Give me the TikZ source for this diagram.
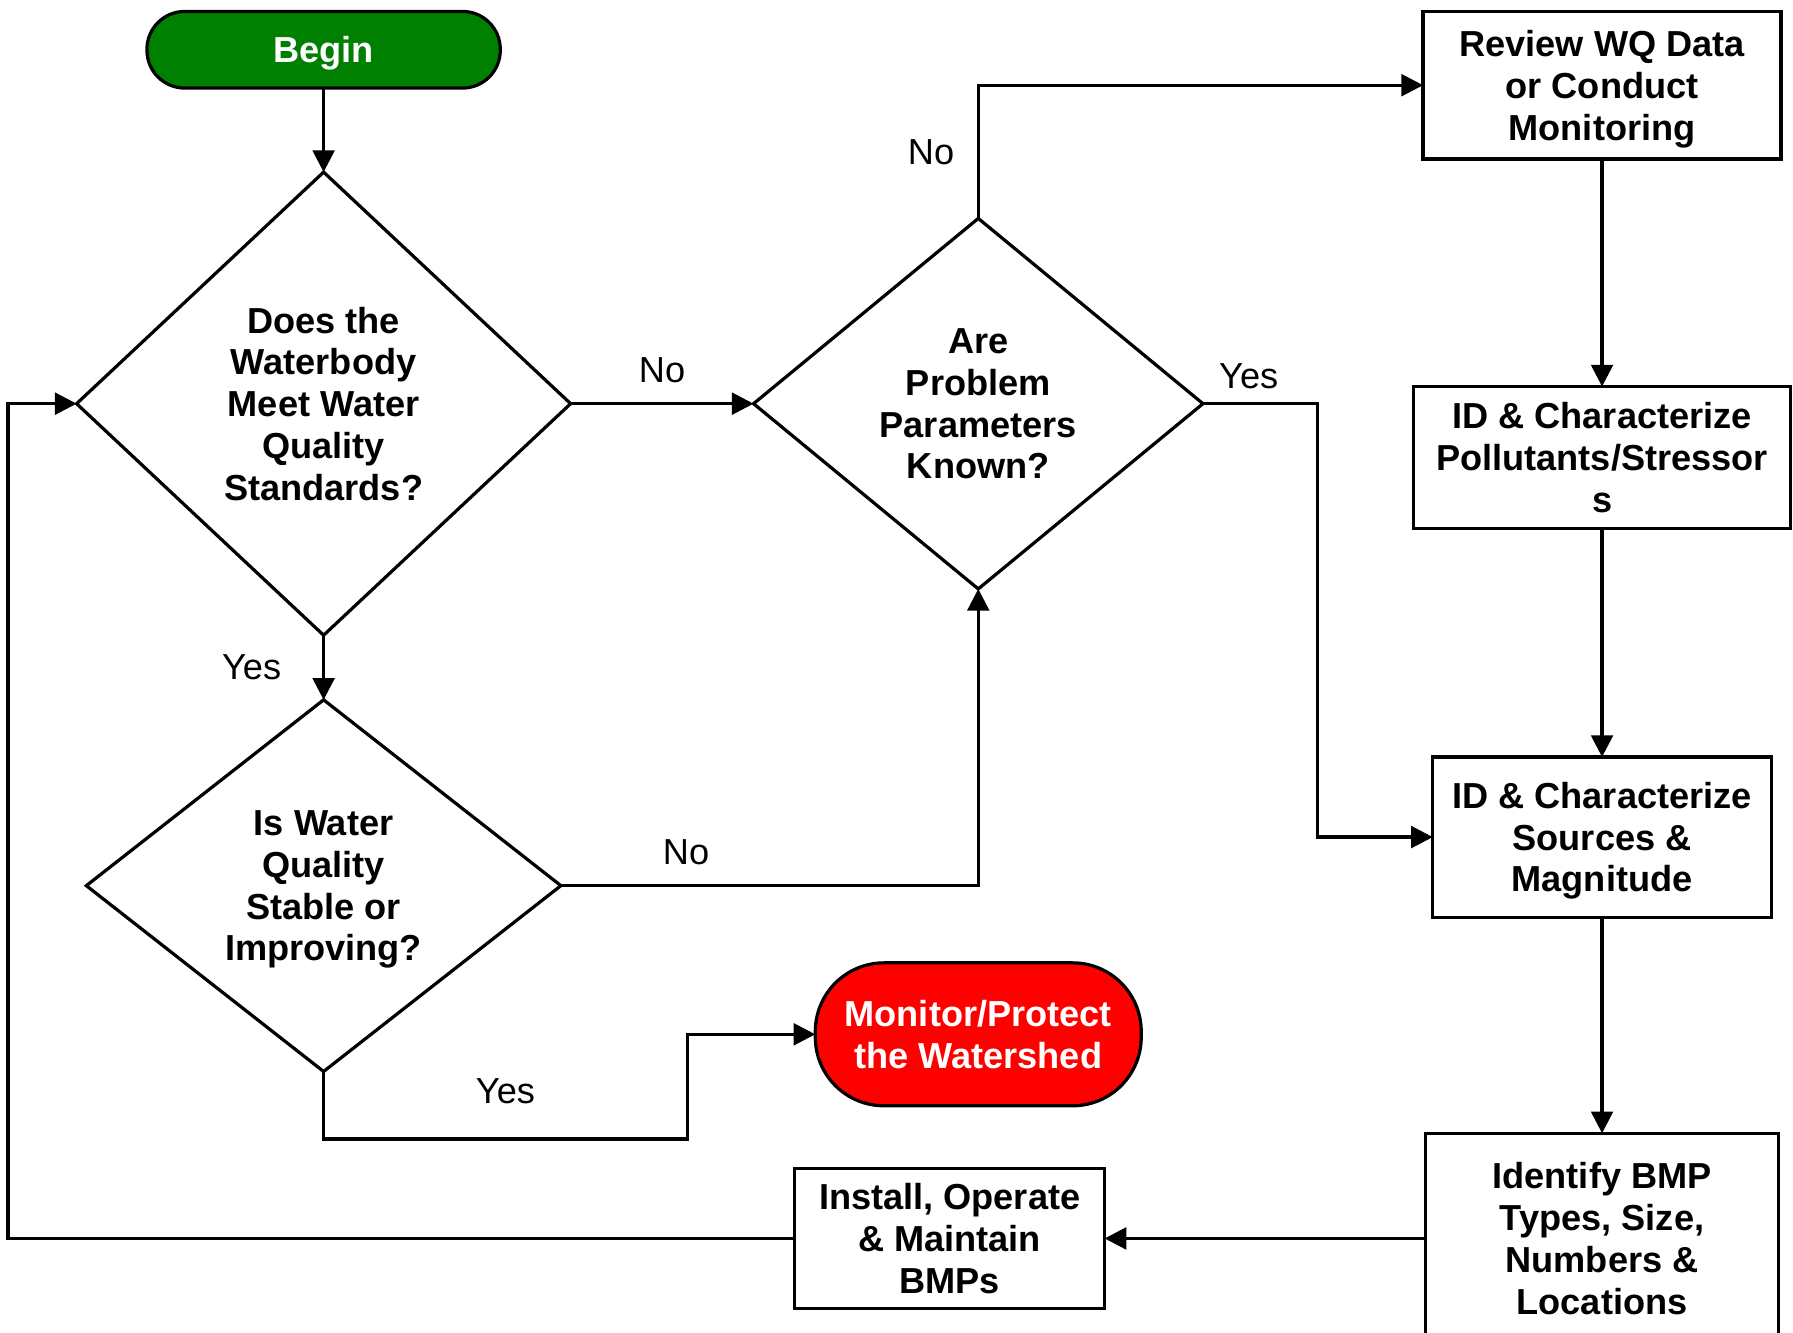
\documentclass[tikz,border=0pt]{standalone}
\usepackage{fontspec}
\setmainfont{Liberation Sans}
\usetikzlibrary{arrows.meta}
\usetikzlibrary{shapes}
\definecolor{startgreen}{RGB}{0,128,0}
\definecolor{stopred}{RGB}{255,0,0}
\tikzstyle{flow}=[-{Triangle[length=1.9mm,width=1.9mm]}]

\begin{document}
\begin{tikzpicture}[thick]
\tikzstyle{decision}=[draw,diamond,align=center,inner sep=0pt,outer sep=0pt,text depth=0pt,font=\fontsize{9}{10.4}\selectfont\bfseries]
\tikzstyle{process}=[draw,rectangle,align=center,inner sep=0pt,outer sep=0pt,text depth=0pt,font=\fontsize{9}{10.4}\selectfont\bfseries]
\tikzstyle{terminal}=[draw,rectangle,align=center,inner sep=0pt,outer sep=0pt,text depth=0pt,text=white,font=\fontsize{9}{10.4}\selectfont\bfseries]
\tikzstyle{answer}=[font=\fontsize{9}{10.4}\selectfont]
\useasboundingbox (0,0) rectangle (15.68,-11.65);
\node [terminal,fill=startgreen,rounded corners=3.3mm,minimum width=3.09cm,minimum height=0.67cm] (begin) at (2.83,-0.435) {Begin};
\node [decision,aspect=1.07,minimum width=4.32cm,minimum height=4.05cm] (meet) at (2.83,-3.53) {Does the\\Waterbody\\Meet Water\\Quality\\Standards?};
\node [decision,aspect=1.21,minimum width=3.93cm,minimum height=3.24cm] (known) at (8.555,-3.53) {Are\\Problem\\Parameters\\Known?};
\node [decision,aspect=1.28,minimum width=4.15cm,minimum height=3.25cm] (stable) at (2.83,-7.745) {Is Water\\Quality\\Stable or\\Improving?};
\node [terminal,fill=stopred,rounded corners=6mm,minimum width=2.85cm,minimum height=1.25cm] (monitor) at (8.555,-9.045) {Monitor/Protect\\the Watershed};
\node [process,minimum width=3.13cm,minimum height=1.29cm] (review) at (14.01,-0.745) {Review WQ Data\\or Conduct\\Monitoring};
\node [process,minimum width=3.30cm,minimum height=1.24cm] (pollut) at (14.01,-4.00) {ID \& Characterize\\Pollutants/Stressor\\s};
\node [process,minimum width=2.96cm,minimum height=1.40cm] (sources) at (14.01,-7.32) {ID \& Characterize\\Sources \&\\Magnitude};
\node [process,minimum width=3.09cm,minimum height=1.84cm] (bmpsel) at (14.01,-10.83) {Identify BMP\\Types, Size,\\Numbers \&\\Locations};
\node [process,minimum width=2.71cm,minimum height=1.23cm] (install) at (8.305,-10.83) {Install, Operate\\\& Maintain\\BMPs};
\coordinate (loop) at (0.07,-11.0);

\draw [flow] (begin.south) -- (meet.north);
\draw [flow] (meet.east) -- node [answer,above=0.5mm] (no1) {No} (known.west);
\draw [flow] (meet.south) -- node [answer,left=2.4mm] (yes1) {Yes} (stable.north);
\draw [flow] (known.north) |- node [answer,left=0.8mm,pos=0.25] (no2) {No} (review.west);
\draw [flow] (known.east) -- node [answer,above,pos=0.4] (yes2) {Yes} ++(1.0,0) |- (sources.west);
\draw [flow] (stable.east) -| node [answer,above=0.5mm,pos=0.15] (no3) {No} (known.south);
\draw [flow] (stable.south) -- ++(0,-0.59) -- node [answer,above=1.8mm] (yes3) {Yes} ++(3.18,0) |- (monitor.west);
\draw [flow] (review.south) -- (pollut.north);
\draw [flow] (pollut.south) -- (sources.north);
\draw [flow] (sources.south) -- (bmpsel.north);
\draw [flow] (bmpsel.west) -- (install.east);
\draw [flow] (install.west) -- (install.west -| loop) |- (meet.west);
\end{tikzpicture}
\end{document}
